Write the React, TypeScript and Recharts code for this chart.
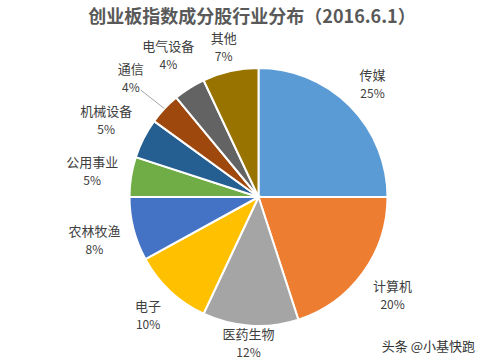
import { Pie, PieChart, Cell } from "recharts";

const INDUSTRIES = ["传媒", "计算机", "医药生物", "电子", "农林牧渔", "公用事业", "机械设备", "通信", "电气设备", "其他"];
const SHARES = [25, 20, 12, 10, 8, 5, 5, 4, 4, 7];
const COLORS = ["#5b9bd5", "#ed7d31", "#a5a5a5", "#ffc000", "#4472c4", "#70ad47", "#255e91", "#9e480e", "#636363", "#997300"];
// labels that Excel pulled away from the pie with a leader line
const LEADER = ["通信"];

const data = INDUSTRIES.map((name, i) => ({ name, value: SHARES[i] }));

const RAD = Math.PI / 180;
const FONT = "'Noto Sans CJK SC', 'Noto Sans', sans-serif";
const CHAR_W = 13;
const HALF_H = 17;

function renderLabel(props: any) {
  const { cx, cy, midAngle, outerRadius, name, value } = props;
  // crowded upper-left labels get fanned out a little, like Excel's best fit
  const a = midAngle > 90 && midAngle < 180 ? midAngle + 5 * Math.sin(2 * (midAngle - 90) * RAD) : midAngle;
  const cos = Math.cos(-a * RAD);
  const sin = Math.sin(-a * RAD);
  const halfW = (name.length * CHAR_W) / 2;
  const leader = LEADER.includes(name);
  const extent = Math.abs(cos) * halfW + Math.abs(sin) * HALF_H;
  const r = outerRadius + 11 + extent + (leader ? 14 : 0);
  const x = cx + r * cos;
  const y = Math.max(Math.min(cy + r * sin, 342), 46);
  const ec = Math.cos(-midAngle * RAD);
  const es = Math.sin(-midAngle * RAD);
  return (
    <g>
      {leader && (
        <line
          x1={cx + outerRadius * ec}
          y1={cy + outerRadius * es}
          x2={x + 10}
          y2={y + 13}
          stroke="#a6a6a6"
          strokeWidth={1}
        />
      )}
      <text x={x} y={y - 9} textAnchor="middle" dominantBaseline="central" fill="#404040" fontSize={13} fontFamily={FONT}>
        {name}
      </text>
      <text x={x} y={y + 9} textAnchor="middle" dominantBaseline="central" fill="#404040" fontSize={12} fontFamily={FONT}>
        {value}%
      </text>
    </g>
  );
}

export default function App() {
  return (
    <div style={{ position: "absolute", left: 0, top: 0, width: 486, height: 362, background: "#fff" }}>
      <PieChart width={486} height={362} margin={{ top: 0, right: 0, bottom: 0, left: 0 }}>
        <text x={252} y={23} textAnchor="middle" fill="#595959" fontSize={18} fontWeight="bold" fontFamily={FONT}>
          创业板指数成分股行业分布（2016.6.1）
        </text>
        <Pie
          data={data}
          dataKey="value"
          nameKey="name"
          cx={258.5}
          cy={197}
          outerRadius={129}
          startAngle={90}
          endAngle={-270}
          stroke="#fff"
          strokeWidth={2}
          label={renderLabel}
          labelLine={false}
          isAnimationActive={false}
        >
          {data.map((_, i) => (
            <Cell key={i} fill={COLORS[i]} />
          ))}
        </Pie>
        <text x={475} y={351} textAnchor="end" fill="#333" fontSize={13} fontFamily={FONT}>
          头条 @小基快跑
        </text>
      </PieChart>
    </div>
  );
}
